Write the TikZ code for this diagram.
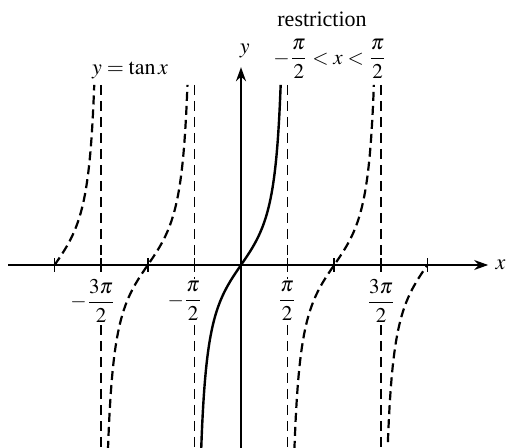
\documentclass[tikz,border=0pt]{standalone}
\usepackage{amsmath}
\usepackage{mathptmx}
\usepackage{fontspec}
\setmainfont{Liberation Serif}
\usetikzlibrary{arrows.meta}
\begin{document}
\begin{tikzpicture}[x=0.5pt,y=-0.5pt,
  solidcurve/.style={line width=1.2pt},
  dashcurve/.style={line width=1.1pt, dash pattern=on 4.5pt off 2.5pt},
  asym/.style={line width=0.8pt, dash pattern=on 5pt off 3pt},
  axis/.style={line width=0.9pt,-{Stealth[length=7pt,width=5pt]}},
  tickmark/.style={line width=0.8pt},
  lbl/.style={font=\fontsize{11}{13}\selectfont, inner sep=1pt},
  fraclbl/.style={font=\fontsize{10.5}{12}\selectfont, inner sep=1pt},
  ticklbl/.style={fraclbl, fill=white, inner sep=1.5pt}]
\useasboundingbox (0,0) rectangle (507,448);
\begin{scope}[shift={(120.5pt,-132.5pt)}, x=14.835pt, y=21.5pt]
  \coordinate (xs) at (-7.85,0);
  \coordinate (xe) at (8.33,0);
  \coordinate (ys) at (0,-4.35);
  \coordinate (ye) at (0,4.6);
  \foreach \k in {-3,-1,1,3}
    \draw[asym] ({\k*pi/2},4.19) -- ({\k*pi/2},-4.35);
  \draw[axis] (xs) -- (xe);
  \draw[axis] (ys) -- (ye);
  \foreach \k in {-4,...,4}
    \draw[tickmark] ({\k*pi/2},-0.16) -- ({\k*pi/2},0.16);
  \draw[dashcurve] plot[domain=0:4.19, samples=60, variable=\t] ({rad(atan(\t))-2*pi}, \t);
  \draw[dashcurve] plot[domain=-4.3:4.19, samples=100, variable=\t] ({rad(atan(\t))-pi}, \t);
  \draw[solidcurve] plot[domain=-4.3:4.19, samples=100, variable=\t] ({rad(atan(\t))}, \t);
  \draw[dashcurve] plot[domain=-4.3:4.19, samples=100, variable=\t] ({rad(atan(\t))+pi}, \t);
  \draw[dashcurve] plot[domain=-4.12:0, samples=60, variable=\t] ({rad(atan(\t))+2*pi}, \t);
  \node[lbl] (xl) at (8.75,0) {$x$};
  \node[lbl] (yl) at (0.13,4.98) {$y$};
\end{scope}
\node[ticklbl] (t1) at (101,301) {$\llap{$-$}\dfrac{3\pi}{2}$};
\node[ticklbl] (t2) at (193,301) {$\llap{$-$}\dfrac{\pi}{2}$};
\node[ticklbl] (t3) at (287,301) {$\dfrac{\pi}{2}$};
\node[ticklbl] (t4) at (381,301) {$\dfrac{3\pi}{2}$};
\node[lbl] (rest) at (322,19) {restriction};
\node[fraclbl] (ineq) at (330,59) {$-\dfrac{\pi}{2} < x < \dfrac{\pi}{2}$};
\node[lbl] (eq) at (130,70) {$y = \tan x$};
\end{tikzpicture}
\end{document}
